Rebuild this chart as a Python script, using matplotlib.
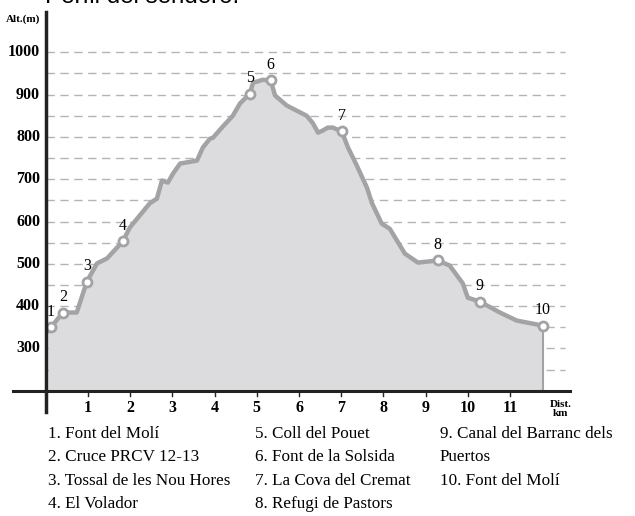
import matplotlib
matplotlib.use("Agg")
import matplotlib.pyplot as plt

# profile (km, m)
dist = [0.05, 0.12, 0.40, 0.73, 0.97, 1.21, 1.45, 1.82, 1.99, 2.46, 2.63, 2.75, 2.89,
        3.01, 3.18, 3.58, 3.72, 3.89, 3.96, 4.17, 4.43, 4.60, 4.83, 4.91, 5.14, 5.33,
        5.43, 5.71, 6.18, 6.33, 6.45, 6.56, 6.68, 6.80, 7.01, 7.16, 7.37, 7.61, 7.73,
        7.96, 8.15, 8.51, 8.82, 9.29, 9.57, 9.88, 10.00, 10.28, 10.76, 11.16, 11.78]
alt = [342, 350, 385, 385, 458, 501, 513, 553, 586, 643, 654, 697, 692,
       713, 737, 744, 775, 796, 798, 822, 850, 879, 902, 928, 935, 933,
       898, 874, 850, 832, 810, 815, 822, 822, 813, 775, 732, 680, 643,
       595, 583, 524, 503, 508, 496, 454, 420, 411, 385, 366, 354]

# waypoints
wp_num = ['1', '2', '3', '4', '5', '6', '7', '8', '9', '10']
wp_km = [0.12, 0.40, 0.97, 1.82, 4.83, 5.33, 7.01, 9.29, 10.28, 11.78]
wp_alt = [350, 385, 458, 553, 902, 934, 813, 508, 411, 354]

legend_cols = [
    ['1. Font del Molí', '2. Cruce PRCV 12-13', '3. Tossal de les Nou Hores', '4. El Volador'],
    ['5. Coll del Pouet', '6. Font de la Solsida', '7. La Cova del Cremat', '8. Refugi de Pastors'],
    ['9. Canal del Barranc dels', 'Puertos', '10. Font del Molí'],
]

yticks = [300, 400, 500, 600, 700, 800, 900, 1000]
xticks = list(range(1, 12))

serif = 'Liberation Serif'
grey = '#a3a3a5'

fig = plt.figure(figsize=(6.35, 5.16), dpi=100)
ax = fig.add_axes([0.0205, 0.2016, 0.877, 0.775])
ax.set_xlim(-0.78, 12.42)
ax.set_ylim(150, 1095)
ax.axis('off')

# grid
for g in range(250, 1001, 50):
    ax.plot([0, 12.3], [g, g], color='#b4b4b4', lw=1, dashes=(6, 4), zorder=1)

ax.fill_between(dist, alt, 200, color='#dcdcde', zorder=2, lw=0)
ax.plot([dist[-1], dist[-1]], [alt[-1], 200], color=grey, lw=1.5, zorder=3)
ax.plot(dist, alt, color=grey, lw=3.2, solid_joinstyle='round', zorder=4)
ax.plot(wp_km, wp_alt, 'o', ms=6.5, mfc='white', mec=grey, mew=2, zorder=5)

for n, xk, ya in zip(wp_num, wp_km, wp_alt):
    ax.text(xk, ya + 18, n, ha='center', va='bottom', family=serif,
            fontsize=11.5, zorder=7)

# axes lines
ax.plot([-0.78, 12.42], [200, 200], color='#222222', lw=2.2, zorder=6, clip_on=False)
ax.plot([0, 0], [150, 1095], color='#222222', lw=2.5, zorder=6, clip_on=False)
for t in xticks:
    ax.plot([t, t], [200, 188], color='#222222', lw=1, zorder=6)
    ax.text(t, 178, str(t), ha='center', va='top', family=serif, fontsize=11.5,
            fontweight='bold')
for t in yticks:
    ax.text(-0.14, t, str(t), ha='right', va='center', family=serif, fontsize=11.5,
            fontweight='bold')
ax.text(-0.14, 1078, 'Alt.(m)', ha='right', va='center', family=serif, fontsize=8,
        fontweight='bold')
ax.text(12.2, 178, 'Dist.\nkm', ha='center', va='top', family=serif, fontsize=8,
        fontweight='bold', linespacing=1.0)

# legend below
col_x = [48, 255, 440]
for cx, items in zip(col_x, legend_cols):
    for i, s in enumerate(items):
        fig.text(cx / 635, 1 - (434 + 23.3 * i) / 516, s, ha='left', va='center',
                 family=serif, fontsize=12.3)

fig.text(45 / 635, 1 - 3 / 516, 'Perfil del sendero.', ha='left', va='baseline',
         family='Liberation Sans', fontsize=17.4)

fig.savefig('out.png', dpi=100)
